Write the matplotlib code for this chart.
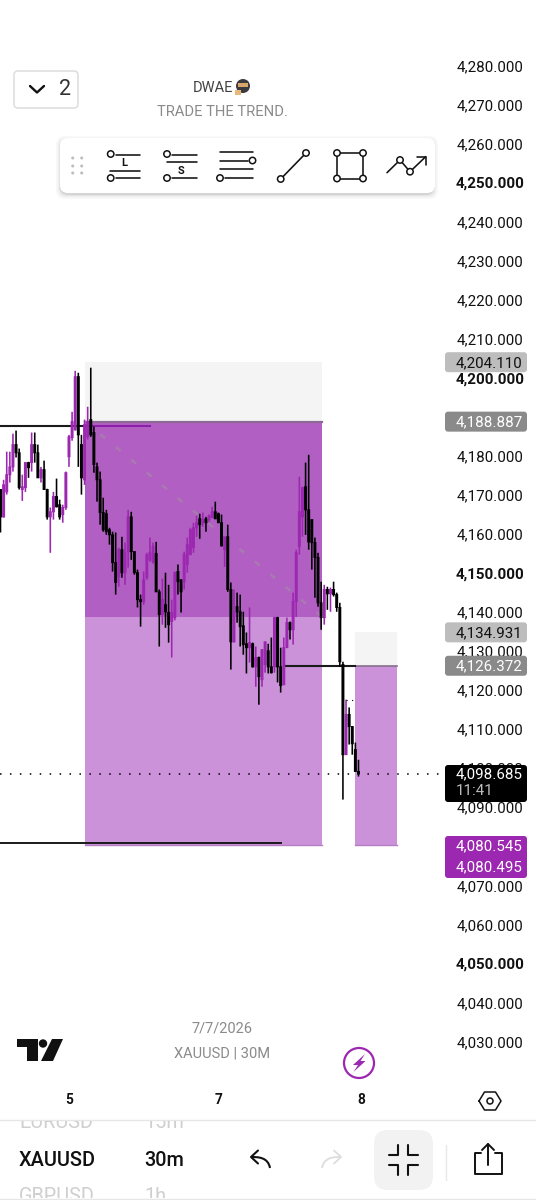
import numpy as np
import matplotlib
matplotlib.use("Agg")
import matplotlib.pyplot as plt
from matplotlib.patches import FancyBboxPatch, Rectangle, Circle, Polygon, PathPatch
from matplotlib.path import Path

plt.rcParams['font.family'] = ['Roboto', 'DejaVu Sans']

# 30 minute candles, XAUUSD
opens = [4171.5, 4164.5, 4170.9, 4175.3, 4177.3, 4183.0, 4180.9, 4171.5, 4172.0, 4178.4,
         4178.4, 4183.0, 4180.9, 4174.5, 4176.6, 4171.5, 4164.5, 4165.8, 4169.7, 4167.6,
         4165.1, 4166.9, 4179.9, 4184.8, 4186.8, 4200.4, 4183.0, 4174.0, 4185.0, 4189.4,
         4186.1, 4177.3, 4174.0, 4165.6, 4165.3, 4161.2, 4159.9, 4152.8, 4149.2, 4156.1,
         4150.2, 4155.6, 4164.5, 4155.6, 4150.2, 4143.3, 4142.8, 4148.9, 4153.5, 4153.0,
         4155.1, 4145.3, 4139.5, 4142.0, 4140.0, 4137.7, 4138.7, 4150.5, 4148.4, 4147.9,
         4152.3, 4154.8, 4156.6, 4161.7, 4164.0, 4163.0, 4164.0, 4163.8, 4164.3, 4165.8,
         4165.3, 4163.0, 4156.1, 4159.4, 4145.9, 4132.5, 4141.5, 4140.2, 4136.6, 4132.0,
         4131.0, 4132.0, 4126.1, 4128.5, 4122.8, 4126.7, 4130.2, 4126.1, 4126.1, 4138.7,
         4126.1, 4121.5, 4131.0, 4137.4, 4135.6, 4142.8, 4156.9, 4164.5, 4172.2, 4166.3,
         4163.8, 4157.9, 4154.1, 4142.5, 4138.7, 4145.9, 4144.8, 4145.9, 4144.6, 4141.3,
         4126.7, 4103.6, 4113.9, 4110.8, 4104.9, 4099.3]
closes = [4164.5, 4172.7, 4175.3, 4177.3, 4183.0, 4180.9, 4172.0, 4172.2, 4178.4, 4177.1,
          4183.0, 4180.9, 4174.5, 4176.6, 4171.5, 4164.5, 4165.8, 4169.7, 4167.1, 4164.5,
          4166.9, 4175.8, 4185.0, 4188.9, 4200.4, 4185.5, 4174.5, 4188.1, 4188.9, 4185.5,
          4177.9, 4174.0, 4165.6, 4161.2, 4160.7, 4159.9, 4152.8, 4147.7, 4156.1, 4150.2,
          4155.3, 4164.5, 4155.6, 4150.2, 4143.3, 4142.8, 4148.4, 4154.8, 4155.3, 4156.9,
          4145.3, 4139.5, 4143.3, 4140.2, 4136.9, 4140.0, 4150.2, 4147.9, 4145.3, 4154.8,
          4157.4, 4161.2, 4161.7, 4163.0, 4162.5, 4163.8, 4163.0, 4164.8, 4165.8, 4164.0,
          4163.0, 4157.1, 4159.4, 4145.9, 4132.5, 4140.2, 4140.2, 4136.4, 4131.8, 4131.0,
          4132.3, 4126.1, 4128.5, 4123.6, 4130.5, 4132.5, 4126.1, 4124.6, 4138.7, 4126.1,
          4121.3, 4131.0, 4137.4, 4135.6, 4142.8, 4155.3, 4165.8, 4172.0, 4166.3, 4158.1,
          4157.9, 4154.1, 4142.5, 4138.7, 4145.9, 4144.8, 4145.9, 4144.6, 4141.3, 4127.4,
          4103.6, 4113.9, 4110.8, 4106.4, 4099.3, 4098.685]
highs = [4171.5, 4174.0, 4181.2, 4181.2, 4185.8, 4186.6, 4182.0, 4175.3, 4178.4, 4178.6,
         4186.1, 4186.1, 4183.0, 4177.3, 4178.9, 4171.7, 4166.9, 4170.9, 4174.3, 4168.9,
         4167.6, 4176.1, 4185.5, 4191.4, 4201.9, 4201.4, 4185.5, 4189.4, 4192.7, 4202.7,
         4187.6, 4178.4, 4176.1, 4169.4, 4166.3, 4161.7, 4160.7, 4160.5, 4156.6, 4159.4,
         4157.9, 4166.3, 4165.8, 4155.6, 4151.0, 4144.6, 4150.5, 4155.3, 4159.2, 4157.9,
         4158.1, 4145.9, 4148.7, 4150.2, 4147.1, 4143.3, 4150.5, 4152.3, 4148.4, 4155.6,
         4159.2, 4161.7, 4163.0, 4164.8, 4165.3, 4165.6, 4164.5, 4165.1, 4167.1, 4168.4,
         4165.6, 4165.1, 4159.4, 4162.5, 4147.7, 4145.9, 4145.1, 4144.6, 4140.2, 4134.9,
         4141.3, 4132.3, 4131.3, 4128.7, 4130.5, 4132.5, 4132.0, 4133.6, 4138.9, 4138.9,
         4131.0, 4133.6, 4138.7, 4137.7, 4145.1, 4156.1, 4174.8, 4172.2, 4178.4, 4180.4,
         4163.8, 4159.2, 4155.3, 4147.9, 4147.1, 4146.6, 4146.4, 4147.9, 4145.1, 4142.5,
         4127.4, 4117.7, 4115.7, 4110.8, 4106.7, 4102.3]
lows = [4160.5, 4164.3, 4170.2, 4173.3, 4176.1, 4179.7, 4171.5, 4168.6, 4170.9, 4174.5,
        4176.1, 4178.4, 4174.5, 4173.3, 4171.5, 4163.8, 4155.3, 4163.8, 4166.9, 4163.8,
        4163.0, 4166.3, 4177.3, 4184.0, 4186.6, 4177.3, 4170.2, 4172.7, 4184.3, 4185.0,
        4175.8, 4168.4, 4162.5, 4160.7, 4159.9, 4157.4, 4150.5, 4144.6, 4146.6, 4148.9,
        4147.1, 4151.5, 4153.5, 4149.7, 4141.3, 4136.4, 4142.0, 4148.4, 4153.0, 4152.5,
        4145.3, 4131.3, 4136.9, 4136.1, 4132.3, 4128.5, 4138.0, 4144.6, 4140.0, 4145.9,
        4150.2, 4154.8, 4155.3, 4159.4, 4158.9, 4162.0, 4160.7, 4163.2, 4164.3, 4164.0,
        4163.0, 4156.9, 4151.7, 4145.3, 4125.4, 4132.3, 4137.4, 4131.3, 4129.2, 4124.4,
        4127.2, 4125.9, 4121.0, 4116.4, 4121.0, 4124.6, 4124.4, 4124.4, 4124.6, 4122.1,
        4119.5, 4121.5, 4131.0, 4133.1, 4131.8, 4138.9, 4154.8, 4159.4, 4159.9, 4156.1,
        4151.0, 4143.8, 4141.5, 4135.6, 4136.9, 4140.7, 4140.2, 4144.1, 4140.2, 4126.1,
        4092.1, 4103.6, 4106.2, 4103.6, 4099.3, 4098.0]

price_ticks = [4280, 4270, 4260, 4250, 4240, 4230, 4220, 4210, 4200, 4190, 4180, 4170, 4160,
               4150, 4140, 4130, 4120, 4110, 4100, 4090, 4080, 4070, 4060, 4050, 4040, 4030]
bold_ticks = [4250, 4200, 4150, 4050]
day_bars = [22, 70, 116]
day_labels = ['5', '7', '8']

# position boxes (prices)
short1_stop = 4204.110
short1_entry = 4188.887
short1_mid = 4138.9
short1_target = 4080.545
short2_stop = 4134.931
short2_entry = 4126.372
short2_target = 4080.495
last_price = 4098.685

PURPLE = '#9C27B0'
W, H = 536, 1200
BAR_PX = 3.113
PX_PER_USD = 3.905
TOP_PRICE = 4250 + 183 / PX_PER_USD


def price_y(p):
    return (TOP_PRICE - p) * PX_PER_USD


def bar_of(px):
    return (px - 0.5) / BAR_PX


fig = plt.figure(figsize=(W / 100, H / 100), dpi=100, facecolor='white')
ax = fig.add_axes([0, 0, 1, 1])
ax.set_xlim(bar_of(0), bar_of(W))
ax.set_ylim(TOP_PRICE - H / PX_PER_USD, TOP_PRICE)
ax.axis('off')

# ---- position boxes
ax.add_patch(Rectangle((bar_of(85), short1_entry), bar_of(322) - bar_of(85), short1_stop - short1_entry,
                       fc='#F4F4F4', ec='none', zorder=1))
ax.add_patch(Rectangle((bar_of(85), short1_mid), bar_of(322) - bar_of(85), short1_entry - short1_mid,
                       fc='#B25FC3', ec='none', zorder=1))
ax.add_patch(Rectangle((bar_of(85), short1_target), bar_of(322) - bar_of(85), short1_mid - short1_target,
                       fc='#CC92D9', ec='none', zorder=1))
ax.add_patch(Rectangle((bar_of(355), short2_entry), bar_of(396.5) - bar_of(355), short2_stop - short2_entry,
                       fc='#F4F4F4', ec='none', zorder=1))
ax.add_patch(Rectangle((bar_of(355), short2_target), bar_of(396.5) - bar_of(355), short2_entry - short2_target,
                       fc='#CC92D9', ec='none', zorder=1))
ax.plot([bar_of(85), bar_of(322)], [short1_entry] * 2, color='#8C6A93', lw=1.6, zorder=2)
ax.plot([bar_of(355), bar_of(396.5)], [short2_entry] * 2, color='#85708A', lw=1.2, zorder=2)
ax.plot([bar_of(85), bar_of(322)], [short1_target] * 2, color='#B77CC6', lw=1, zorder=2)
ax.plot([bar_of(355), bar_of(396.5)], [short2_target] * 2, color='#B77CC6', lw=1, zorder=2)
ax.plot([bar_of(85), bar_of(322)], [short1_entry, short1_mid], color='#A77BB0', lw=1.8,
        dashes=(2.5, 5.5), zorder=2)

# ---- horizontal levels
ax.plot([bar_of(0), bar_of(85)], [4187.8] * 2, color='#1A1A1A', lw=1.5, zorder=2)
ax.plot([bar_of(85), bar_of(150)], [4187.8] * 2, color='#8A1FA8', lw=1.5, zorder=2)
ax.plot([bar_of(0), bar_of(281)], [4081.0] * 2, color='#1A1A1A', lw=1.4, zorder=2)
ax.plot([bar_of(285), bar_of(355)], [short2_entry] * 2, color='#1A1A1A', lw=1.5, zorder=2)
ax.plot([bar_of(0), bar_of(445)], [last_price] * 2, color='black', lw=1.1, dashes=(1, 5.5), zorder=2)

# ---- candles
o = np.array(opens)
c = np.array(closes)
idx = np.arange(len(o))
cols = np.where(c >= o, PURPLE, 'black')
wicks = ax.vlines(idx, lows, highs, colors=cols, lw=1.15, zorder=3)
wicks.set_snap(False)
bodies = ax.bar(idx, np.abs(c - o) + 0.25, bottom=np.minimum(o, c) - 0.12, width=0.95, color=cols, lw=0, zorder=3)
for b in bodies:
    b.set_snap(False)
ax.plot([bar_of(346), bar_of(354)], [4117.5] * 2, color='black', lw=0.8, dashes=(1, 4), zorder=3)

# ---- price scale
for p in price_ticks:
    ax.text(bar_of(490), p - 0.25, f'{p:,.3f}', ha='center', va='center', fontsize=10.9,
            color='#111111', fontweight='bold' if p in bold_ticks else 'normal', zorder=4)

# ---- overlay in screen pixels
ui = fig.add_axes([0, 0, 1, 1])
ui.set_xlim(0, W)
ui.set_ylim(H, 0)
ui.axis('off')
ui.patch.set_alpha(0)


def tag(y0, y1, color):
    ui.add_patch(FancyBboxPatch((447, y0 + 2), 78, y1 - y0 - 4, boxstyle='round,pad=2,rounding_size=3',
                                fc=color, ec='none', zorder=5))


def tag_text(y, s, color='white'):
    ui.text(456, y + 1, s, ha='left', va='center', fontsize=10.9, color=color, zorder=6)


tag(price_y(short1_stop) - 10, price_y(short1_stop) + 10, '#BDBDBD')
tag_text(price_y(short1_stop), f'{short1_stop:,.3f}', '#111111')
tag(price_y(short1_entry) - 10, price_y(short1_entry) + 10, '#8A8A8A')
tag_text(price_y(short1_entry), f'{short1_entry:,.3f}')
tag(price_y(short2_stop) - 10, price_y(short2_stop) + 10, '#BDBDBD')
tag_text(price_y(short2_stop), f'{short2_stop:,.3f}', '#111111')
tag(price_y(short2_entry) - 10, price_y(short2_entry) + 10, '#8A8A8A')
tag_text(price_y(short2_entry), f'{short2_entry:,.3f}')
tag(765, 802, 'black')
tag_text(773, f'{last_price:,.3f}')
tag_text(790, '11:41', '#BDBDBD')
tag(836, 878, PURPLE)
tag_text(845, f'{short1_target:,.3f}')
tag_text(866, f'{short2_target:,.3f}')


def line(xs, ys, color='#111111', lw=1.15, z=12):
    ui.plot(xs, ys, color=color, lw=lw, solid_capstyle='round', zorder=z)


def dot(x, y, r=3.2, z=13):
    ui.add_patch(Circle((x, y), r, fc='white', ec='#111111', lw=1.1, zorder=z))


# symbol count selector
ui.add_patch(FancyBboxPatch((16, 73), 60, 33, boxstyle='round,pad=2,rounding_size=4',
                            fc='white', ec='#DDDDDD', lw=1.1, zorder=8))
line([30, 37, 44], [86, 92.5, 86], lw=1.7)
ui.text(65, 89.5, '2', ha='center', va='center', fontsize=15.5, color='#333333', zorder=9)

# header
ui.text(193, 87.5, 'DWAE', ha='left', va='center', fontsize=10.5, color='#444444', zorder=9)
ui.add_patch(Circle((243, 86), 7, fc='#3A3A3F', ec='none', zorder=9))
ui.add_patch(Rectangle((238, 83), 10, 4, fc='#D9A56B', ec='none', zorder=10))
ui.add_patch(Rectangle((235, 90), 6, 5, fc='#E8B878', ec='none', zorder=10))
ui.text(222, 112.5, 'TRADE THE TREND.', ha='center', va='center', fontsize=10.6, color='#8A8A8A', zorder=9)

# drawing toolbar
for grow, a in [(5, 0.025), (3.5, 0.035), (2, 0.05), (1, 0.06)]:
    ui.add_patch(FancyBboxPatch((65 - grow, 143 + 2 - grow), 364 + 2 * grow, 45 + 2 * grow,
                                boxstyle='round,pad=4,rounding_size=8', fc='black', alpha=a, ec='none', zorder=10))
ui.add_patch(FancyBboxPatch((64, 142), 367, 47, boxstyle='round,pad=4,rounding_size=8',
                            fc='white', ec='none', zorder=11))
for gx in [72.7, 81.7]:
    for gy in [158, 166, 173]:
        ui.add_patch(Circle((gx, gy), 1.5, fc='#BDBDBD', ec='none', zorder=12))
# long position icon
line([116, 140], [154.5, 154.5]); dot(110.7, 154)
line([110, 140], [171, 171])
line([116, 140], [178, 178]); dot(110.7, 178)
ui.text(124.5, 163, 'L', ha='center', va='center', fontsize=8, fontweight='bold', color='#111111', zorder=12)
# short position icon
line([172, 197], [154.5, 154.5]); dot(167, 154)
line([167, 197], [162, 162])
line([172, 197], [178, 178]); dot(167, 178)
ui.text(181.5, 171, 'S', ha='center', va='center', fontsize=8, fontweight='bold', color='#111111', zorder=12)
# horizontal lines icon
line([220, 253], [152, 152])
line([220, 248], [160.5, 160.5]); dot(252.5, 160.5)
line([220, 253], [169, 169])
line([225, 253], [178, 178]); dot(220, 178)
# trend line icon
line([280.7, 306], [179, 153]); dot(280.7, 179); dot(306, 153)
# rectangle icon
line([337, 363, 363, 337, 337], [153, 153, 178.5, 178.5, 153])
for rx, ry in [(337, 153), (363, 153), (337, 178.5), (363, 178.5)]:
    dot(rx, ry)
# path icon
line([387, 400, 410, 425.7], [172.7, 160, 171.7, 156.7])
line([417, 425.7, 425.7], [156.5, 156.5, 165])
dot(400, 160); dot(410, 171.7)

# chart footer
ui.text(222, 1028.5, '7/7/2026', ha='center', va='center', fontsize=10.5, color='#8A8A8A', zorder=9)
ui.text(222, 1053.5, 'XAUUSD | 30M', ha='center', va='center', fontsize=10.5, color='#8A8A8A', zorder=9)
# TradingView logo
ui.add_patch(Polygon([(17, 1039), (38, 1039), (38, 1061), (27, 1061), (27, 1047), (17, 1047)],
                     fc='#111111', ec='none', zorder=9))
ui.add_patch(Circle((43, 1043.5), 4.2, fc='#111111', ec='none', zorder=9))
ui.add_patch(Polygon([(52, 1039), (63, 1039), (53, 1061), (41, 1061)], fc='#111111', ec='none', zorder=9))
# bolt button
ui.add_patch(Circle((359, 1063), 15, fc='white', ec=PURPLE, lw=1.6, zorder=9))
ui.add_patch(Polygon([(365, 1054), (353, 1065), (358, 1065), (353.5, 1072), (365.5, 1061), (360.5, 1061)],
                     fc=PURPLE, ec='none', zorder=10))

# time scale
for b, lab in zip(day_bars, day_labels):
    ax.text(b, TOP_PRICE - 1100.5 / PX_PER_USD, lab, ha='center', va='center', fontsize=9.8,
            fontweight='bold', color='#111111', zorder=4)
hex_x = [479, 484.5, 495.5, 501, 495.5, 484.5, 479]
hex_y = [1101, 1092, 1092, 1101, 1110, 1110, 1101]
line(hex_x, hex_y, lw=1.1, z=9)
ui.add_patch(Circle((490, 1101), 3, fc='white', ec='#111111', lw=1.1, zorder=9))

# bottom panel
line([0, W], [1120, 1120], color='#E6E6E6', lw=1, z=9)
clip = Rectangle((0, 1121), W, 77, transform=ui.transData)
for s, x, y, col, fw in [('EURUSD', 19, 1123, '#CFCFCF', 'normal'),
                         ('15m', 144, 1123, '#CFCFCF', 'normal'),
                         ('XAUUSD', 19, 1160, '#111111', 'medium'),
                         ('30m', 144, 1160, '#111111', 'medium'),
                         ('GBPUSD', 19, 1196, '#CFCFCF', 'normal'),
                         ('1h', 144, 1196, '#CFCFCF', 'normal')]:
    t = ui.text(x, y, s, ha='left', va='center', fontsize=14.3, color=col, fontweight=fw, zorder=9)
    t.set_clip_path(clip)
    t.set_clip_on(True)
line([0, W], [1198.5, 1198.5], color='#E6E6E6', lw=1, z=9)

# undo / redo
for sign, x0, col, lw in [(1, 250, '#111111', 1.5), (-1, 342, '#DDDDDD', 1.3)]:
    verts = [(x0 + sign * 20, 1168), (x0 + sign * 18, 1157), (x0 + sign * 8, 1157), (x0 + sign * 1, 1157)]
    ui.add_patch(PathPatch(Path(verts, [Path.MOVETO, Path.CURVE4, Path.CURVE4, Path.CURVE4]),
                           fc='none', ec=col, lw=lw, zorder=9))
    line([x0 + sign * 8, x0 + sign * 1, x0 + sign * 8], [1150.5, 1157, 1163.5], color=col, lw=lw, z=9)

# collapse button
ui.add_patch(FancyBboxPatch((378, 1134), 51, 52, boxstyle='round,pad=4,rounding_size=14',
                            fc='#F2F2F2', ec='none', zorder=8))
line([389, 398, 398], [1155, 1155, 1145], lw=1.5)
line([408, 408, 418], [1145, 1155, 1155], lw=1.5)
line([389, 398, 398], [1165, 1165, 1175], lw=1.5)
line([408, 408, 418], [1175, 1165, 1165], lw=1.5)
line([446, 446], [1145, 1180], color='#E8E8E8', lw=1, z=9)

# share icon
line([481, 474.5, 474.5, 501.5, 501.5, 495], [1153, 1153, 1173.5, 1173.5, 1153, 1153], lw=1.4, z=9)
line([488, 488], [1144, 1165], lw=1.4, z=9)
line([482, 488, 494], [1150, 1144, 1150], lw=1.4, z=9)

fig.savefig('out.png', dpi=100)
